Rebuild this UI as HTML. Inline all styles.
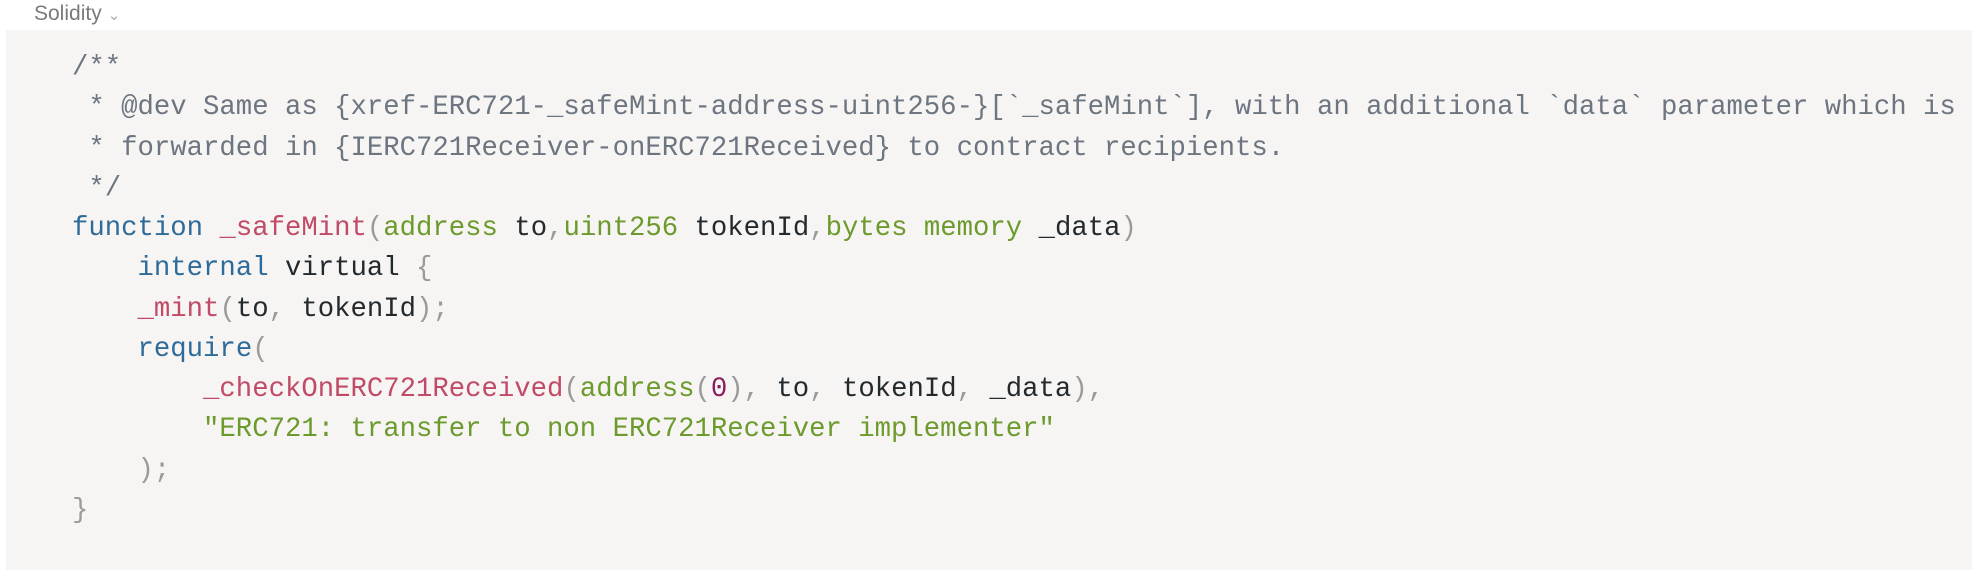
<!DOCTYPE html>
<html><head><meta charset="utf-8"><style>
html,body{margin:0;padding:0;background:#fff;width:1972px;height:570px;overflow:hidden;}
.lang{position:absolute;left:34px;top:2px;font:21px "Liberation Sans",sans-serif;color:#7a7a7a;}
.lang span{font-size:15px;color:#aaa;margin-left:6px;}
.panel{position:absolute;left:6px;top:30px;right:0;bottom:0;background:#f6f5f3;}
pre{position:absolute;left:72px;top:48px;margin:0;font:27.3px/40.25px "Liberation Mono",monospace;color:#24292e;}
.c{color:#6d7580}.k{color:#2f6b98}.f{color:#c14a67}.g{color:#6c9a2c}.p{color:#9a9a9a}.n{color:#8a1e5e}
</style></head><body>
<div class="lang">Solidity<span>&#8964;</span></div>
<div class="panel"></div>
<pre><span class="c">/**
 * @dev Same as {xref-ERC721-_safeMint-address-uint256-}[`_safeMint`], with an additional `data` parameter which is
 * forwarded in {IERC721Receiver-onERC721Received} to contract recipients.
 */</span>
<span class="k">function</span> <span class="f">_safeMint</span><span class="p">(</span><span class="g">address</span> to<span class="p">,</span><span class="g">uint256</span> tokenId<span class="p">,</span><span class="g">bytes</span> <span class="g">memory</span> _data<span class="p">)</span>
    <span class="k">internal</span> virtual <span class="p">{</span>
    <span class="f">_mint</span><span class="p">(</span>to<span class="p">,</span> tokenId<span class="p">);</span>
    <span class="k">require</span><span class="p">(</span>
        <span class="f">_checkOnERC721Received</span><span class="p">(</span><span class="g">address</span><span class="p">(</span><span class="n">0</span><span class="p">),</span> to<span class="p">,</span> tokenId<span class="p">,</span> _data<span class="p">),</span>
        <span class="g">"ERC721: transfer to non ERC721Receiver implementer"</span>
    <span class="p">);</span>
<span class="p">}</span></pre>
</body></html>
